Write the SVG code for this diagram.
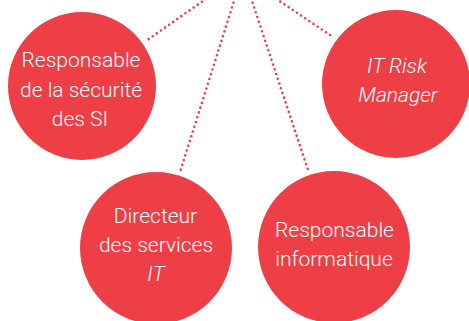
<svg xmlns="http://www.w3.org/2000/svg" width="469" height="321" viewBox="0 0 469 321">
<style>
.n{fill:#ee3e46}
.t{font-family:Roboto,"Liberation Sans",Arial,sans-serif;font-weight:300;font-size:21px;fill:#ffffff;text-anchor:middle}
.i{font-style:italic}
.c{stroke:#ee3e46;stroke-width:2.6;stroke-linecap:round;stroke-dasharray:0 5;fill:none}
</style>
<rect width="469" height="321" fill="#ffffff"/>
<g id="connectors">
<line class="c" x1="210" y1="-4" x2="146" y2="41"/>
<line class="c" x1="235" y1="-2" x2="180" y2="172"/>
<line class="c" x1="251" y1="-2" x2="309" y2="173"/>
<line class="c" x1="272" y1="-4" x2="333" y2="37"/>
</g>
<g id="node-rssi">
<circle class="n" cx="82" cy="86" r="74"/>
<text class="t" x="81" y="67">Responsable</text>
<text class="t" x="81" y="97">de la sécurité</text>
<text class="t" x="80" y="126">des SI</text>
</g>
<g id="node-risk">
<circle class="n" cx="396" cy="84" r="74"/>
<text class="t i" x="397" y="73">IT Risk</text>
<text class="t i" x="398" y="102">Manager</text>
</g>
<g id="node-dsi">
<circle class="n" cx="156" cy="248" r="76"/>
<text class="t" x="155.5" y="223">Directeur</text>
<text class="t" x="156" y="252">des services</text>
<text class="t i" x="156" y="281">IT</text>
</g>
<g id="node-ri">
<circle class="n" cx="334" cy="247" r="76"/>
<text class="t" x="334.5" y="237">Responsable</text>
<text class="t" x="334" y="266">informatique</text>
</g>
</svg>
